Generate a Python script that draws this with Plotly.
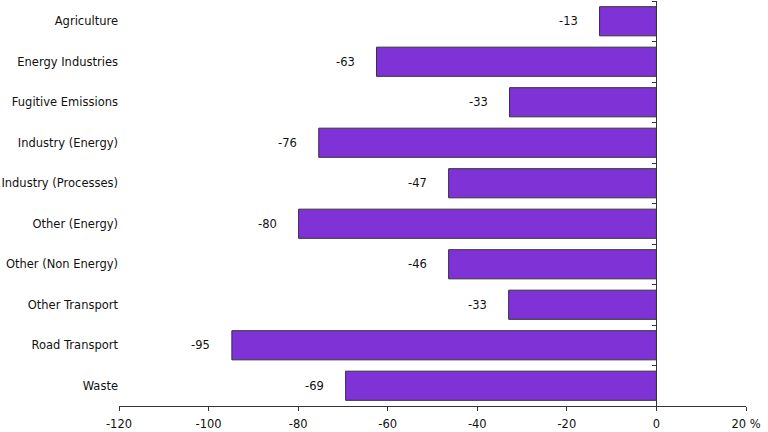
import plotly.graph_objects as go

categories = ["Agriculture", "Energy Industries", "Fugitive Emissions", "Industry (Energy)",
              "Industry (Processes)", "Other (Energy)", "Other (Non Energy)", "Other Transport",
              "Road Transport", "Waste"]
values = [-12.7, -62.5, -32.8, -75.4, -46.4, -79.9, -46.4, -33.0, -94.8, -69.4]
labels = ["-13", "-63", "-33", "-76", "-47", "-80", "-46", "-33", "-95", "-69"]
x_tickvals = [-120, -100, -80, -60, -40, -20, 0, 20]
x_ticktext = ["-120", "-100", "-80", "-60", "-40", "-20", "0", "20 %"]

FONT = "DejaVu Sans, Verdana, sans-serif"
TXT = "#111111"

fig = go.Figure()
fig.add_trace(go.Bar(
    x=values, y=categories, orientation="h",
    marker=dict(color="#7F33D6", line=dict(color="#333333", width=1)),
    hoverinfo="skip", showlegend=False,
))
# invisible helper trace for the zero-line axis with boundary ticks
fig.add_trace(go.Scatter(
    x=[0] * len(categories), y=categories, yaxis="y2", mode="markers",
    marker=dict(opacity=0), hoverinfo="skip", showlegend=False,
))

for v, c, t in zip(values, categories, labels):
    fig.add_annotation(x=v, y=c, text=t, showarrow=False, xanchor="right",
                       xshift=-20, font=dict(family=FONT, size=11.5, color=TXT))

x0, x1 = -120, 20
zero_pos = (0 - x0) / (x1 - x0)

fig.update_layout(
    width=768, height=432,
    margin=dict(l=119, r=22, t=1, b=23),
    plot_bgcolor="white", paper_bgcolor="white",
    bargap=0.28,
    font=dict(family=FONT, size=11.5, color=TXT),
    xaxis=dict(range=[x0, x1], tickvals=x_tickvals, ticktext=x_ticktext,
               showgrid=False, zeroline=False, showline=True, linecolor="#333333",
               linewidth=1, ticks="outside", ticklen=4, tickcolor="#333333",
               ticklabelstandoff=3,
               tickfont=dict(family=FONT, size=11.5, color=TXT)),
    yaxis=dict(categoryorder="array", categoryarray=categories, range=[9.5, -0.5],
               showgrid=False, zeroline=False, showline=False, ticks="",
               tickfont=dict(family=FONT, size=11.5, color=TXT)),
    yaxis2=dict(overlaying="y", anchor="free", position=zero_pos, side="left",
                categoryorder="array", categoryarray=categories, range=[9.5, -0.5],
                showgrid=False, zeroline=False, showline=True, linecolor="#333333",
                linewidth=1, ticks="outside", ticklen=4, tickcolor="#333333",
                tickson="boundaries", showticklabels=False),
)

fig.write_html("out.html", config={"displayModeBar": False},
               post_script="document.body.style.margin='0';document.body.style.overflow='hidden';")
